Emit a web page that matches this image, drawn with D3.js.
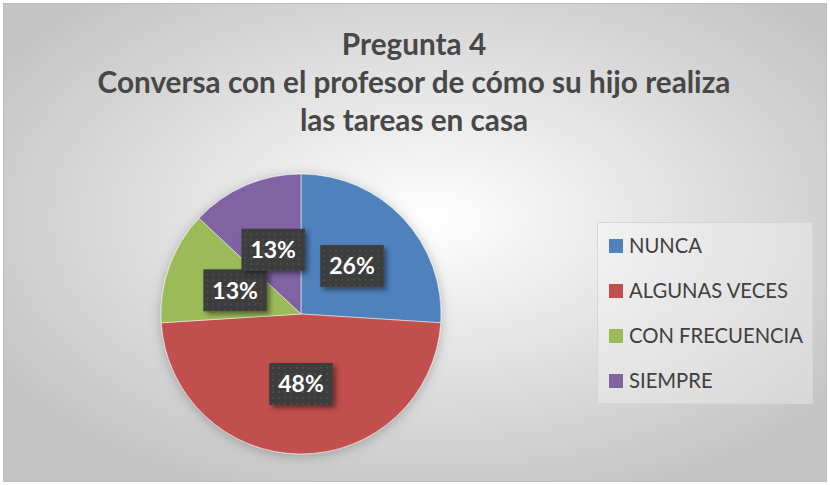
<!DOCTYPE html>
<html>
<head>
<meta charset="utf-8">
<script src="https://cdn.jsdelivr.net/npm/d3@7"></script>
<style>
  html, body { margin: 0; padding: 0; background: #fff; }
  svg { display: block; font-family: Lato, "Open Sans", sans-serif; }
</style>
</head>
<body>
<div id="chart"></div>
<script>
// datos
const categories = ["NUNCA", "ALGUNAS VECES", "CON FRECUENCIA", "SIEMPRE"];
const values = [26, 48, 13, 13];
const colors = ["#4f81bd", "#c0504d", "#9bbb59", "#8064a2"];
const titleLines = ["Pregunta 4", "Conversa con el profesor de cómo su hijo realiza", "las tareas en casa"];

const width = 830, height = 485;
const cx = 301, cy = 314, radius = 140;

const svg = d3.select("#chart").append("svg")
  .attr("width", width).attr("height", height);

const defs = svg.append("defs");

// fondo degradado
const bg = defs.append("radialGradient").attr("id", "bg")
  .attr("cx", "52%").attr("cy", "45%").attr("r", "62%");
bg.append("stop").attr("offset", "0%").attr("stop-color", "#ffffff");
bg.append("stop").attr("offset", "100%").attr("stop-color", "#c4c4c4");

// sombra del pastel
const pieShadow = defs.append("filter").attr("id", "pieShadow")
  .attr("x", "-20%").attr("y", "-20%").attr("width", "140%").attr("height", "140%");
pieShadow.append("feDropShadow").attr("dx", 0).attr("dy", 2)
  .attr("stdDeviation", 6).attr("flood-color", "#000").attr("flood-opacity", 0.25);

// sombra de etiquetas
const lblShadow = defs.append("filter").attr("id", "lblShadow")
  .attr("x", "-20%").attr("y", "-20%").attr("width", "150%").attr("height", "150%");
lblShadow.append("feDropShadow").attr("dx", 3).attr("dy", 3)
  .attr("stdDeviation", 2.5).attr("flood-color", "#000").attr("flood-opacity", 0.45);

// patrón punteado
const pat = defs.append("pattern").attr("id", "dots")
  .attr("patternUnits", "userSpaceOnUse").attr("width", 6).attr("height", 6);
pat.append("rect").attr("width", 6).attr("height", 6).attr("fill", "#3d3d3d");
pat.append("rect").attr("x", 1).attr("y", 1).attr("width", 2).attr("height", 2).attr("fill", "#4c4c4c");

svg.append("rect")
  .attr("x", 3.5).attr("y", 3.5).attr("width", width - 7).attr("height", height - 7)
  .attr("fill", "url(#bg)").attr("stroke", "#bdbdbd").attr("stroke-width", 1);

// título
const title = svg.append("text")
  .attr("text-anchor", "middle")
  .attr("fill", "#474747")
  .attr("font-weight", "bold")
  .attr("font-size", 28);
title.selectAll("tspan").data(titleLines).join("tspan")
  .attr("x", 414)
  .attr("y", (d, i) => 55 + i * 38)
  .text(d => d);
// ajustar ancho al de la referencia
const l2 = title.selectAll("tspan").nodes()[1].getComputedTextLength();
title.attr("font-size", 28 * 633 / l2);

// pastel
const pie = d3.pie().value(d => d).sort(null);
const arc = d3.arc().innerRadius(0).outerRadius(radius);
const arcs = pie(values);

const g = svg.append("g").attr("transform", `translate(${cx},${cy})`);

g.append("g").attr("filter", "url(#pieShadow)")
  .selectAll("path")
  .data(arcs)
  .join("path")
  .attr("d", arc)
  .attr("fill", (d, i) => colors[i])
  .attr("stroke", "rgba(255,255,255,0.5)")
  .attr("stroke-width", 1);

// etiquetas
const total = d3.sum(values);
const fmt = d3.format(".0%");
const labels = g.selectAll("g.lbl")
  .data(arcs)
  .join("g")
  .attr("class", "lbl")
  .attr("transform", d => `translate(${arc.centroid(d)})`);

labels.append("rect").attr("class", "box");
labels.append("text")
  .attr("text-anchor", "middle")
  .attr("dy", "0.36em")
  .attr("fill", "#fff")
  .attr("font-weight", "bold")
  .attr("font-size", 23)
  .text(d => fmt(d.data / total));

labels.each(function() {
  const t = d3.select(this).select("text").node();
  const w = t.getComputedTextLength() + 18, h = 42;
  d3.select(this).select("rect")
    .attr("x", -w / 2).attr("y", -h / 2)
    .attr("width", w).attr("height", h)
    .attr("fill", "url(#dots)")
    .attr("filter", "url(#lblShadow)");
});

// leyenda
svg.append("rect")
  .attr("x", 597.5).attr("y", 222.5).attr("width", 215).attr("height", 181)
  .attr("fill", "rgba(255,255,255,0.3)").attr("stroke", "#d6d6d6");

const legend = svg.append("g");
const rowY = d3.scalePoint().domain(categories).range([246, 381]);
const items = legend.selectAll("g")
  .data(categories)
  .join("g")
  .attr("transform", d => `translate(609,${rowY(d)})`);
items.append("rect")
  .attr("x", 0).attr("y", -7).attr("width", 14).attr("height", 14)
  .attr("fill", (d, i) => colors[i]);
const legTexts = items.append("text")
  .attr("x", 20).attr("dy", "0.36em")
  .attr("fill", "#404040")
  .attr("font-size", 19)
  .text(d => d);
const lw = legTexts.nodes()[1].getComputedTextLength();
legTexts.attr("font-size", 19 * 159 / lw);
</script>
</body>
</html>
